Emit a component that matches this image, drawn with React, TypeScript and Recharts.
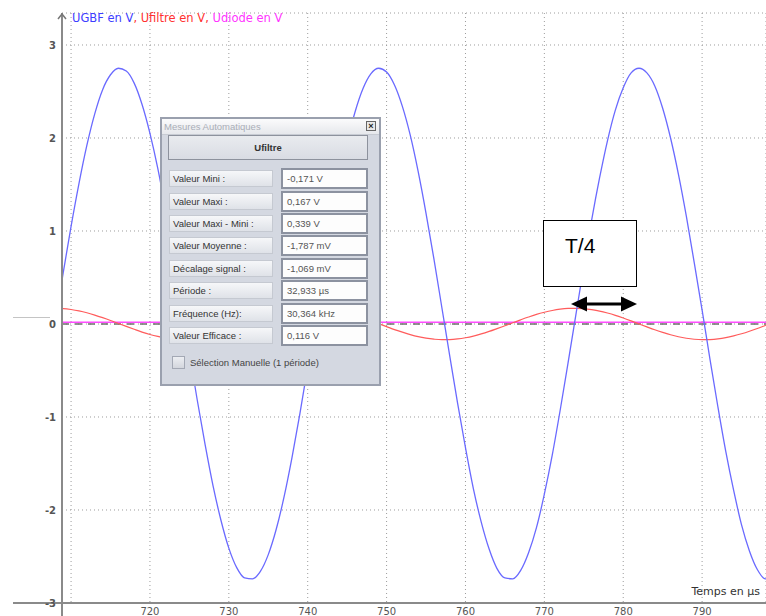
import React from 'react';
import { LineChart, Line, XAxis, YAxis, CartesianGrid, ReferenceLine, ReferenceDot } from 'recharts';

// time in µs
const times = [
  708, 709, 710, 711, 712, 713, 714, 715, 716, 717, 718, 719, 720, 721, 722, 723,
  724, 725, 726, 727, 728, 729, 730, 731, 732, 733, 734, 735, 736, 737, 738, 739,
  740, 741, 742, 743, 744, 745, 746, 747, 748, 749, 750, 751, 752, 753, 754, 755,
  756, 757, 758, 759, 760, 761, 762, 763, 764, 765, 766, 767, 768, 769, 770, 771,
  772, 773, 774, 775, 776, 777, 778, 779, 780, 781, 782, 783, 784, 785, 786, 787,
  788, 789, 790, 791, 792, 793, 794, 795, 796, 797, 798, 799,
];

// UGBF en V
const ugbf = [
  0.03, 0.55, 1.05, 1.51, 1.92, 2.26, 2.52, 2.68, 2.75, 2.72, 2.59, 2.36, 2.05, 1.67, 1.22, 0.73,
  0.22, -0.31, -0.82, -1.30, -1.74, -2.11, -2.41, -2.62, -2.73, -2.74, -2.66, -2.48, -2.21, -1.86, -1.44, -0.97,
  -0.46, 0.06, 0.58, 1.08, 1.54, 1.95, 2.28, 2.53, 2.69, 2.75, 2.71, 2.57, 2.34, 2.03, 1.64, 1.19,
  0.70, 0.18, -0.34, -0.85, -1.33, -1.77, -2.13, -2.42, -2.63, -2.73, -2.74, -2.65, -2.46, -2.19, -1.83, -1.41,
  -0.93, -0.42, 0.10, 0.62, 1.12, 1.57, 1.97, 2.30, 2.54, 2.70, 2.75, 2.70, 2.56, 2.32, 2.00, 1.61,
  1.16, 0.66, 0.15, -0.38, -0.89, -1.37, -1.79, -2.16, -2.44, -2.64, -2.74, -2.74,
];

// Ufiltre en V
const ufiltre = [
  0.169, 0.166, 0.156, 0.141, 0.121, 0.096, 0.068, 0.038, 0.006, -0.026, -0.057, -0.087, -0.113, -0.134, -0.151, -0.163,
  -0.168, -0.168, -0.161, -0.149, -0.131, -0.108, -0.082, -0.052, -0.021, 0.011, 0.043, 0.073, 0.101, 0.125, 0.144, 0.158,
  0.167, 0.169, 0.165, 0.155, 0.140, 0.119, 0.095, 0.066, 0.036, 0.004, -0.028, -0.060, -0.088, -0.114, -0.136, -0.152,
  -0.163, -0.169, -0.168, -0.161, -0.148, -0.130, -0.107, -0.080, -0.050, -0.019, 0.014, 0.045, 0.075, 0.103, 0.126, 0.145,
  0.159, 0.167, 0.169, 0.165, 0.154, 0.139, 0.118, 0.093, 0.064, 0.033, 0.001, -0.031, -0.062, -0.090, -0.116, -0.137,
  -0.153, -0.164, -0.169, -0.167, -0.160, -0.147, -0.128, -0.105, -0.078, -0.048, -0.016, 0.016,
];

// Udiode en V
const udiodeTimes = [708, 720, 730, 740, 750, 760, 770, 780, 790, 799];
const udiode = [0.02, 0.02, 0.02, 0.02, 0.02, 0.02, 0.02, 0.02, 0.02, 0.02];

const xTicks = [710, 720, 730, 740, 750, 760, 770, 780, 790];
const xTickLabels = ['', '720', '730', '740', '750', '760', '770', '780', '790'];
const yTicks = [-3, -2, -1, 0, 1, 2, 3];

const measureLabels = [
  'Valeur Mini :', 'Valeur Maxi :', 'Valeur Maxi - Mini :', 'Valeur Moyenne :',
  'Décalage signal :', 'Période :', 'Fréquence (Hz):', 'Valeur Efficace :',
];
const measureValues = [
  '-0,171 V', '0,167 V', '0,339 V', '-1,787 mV', '-1,069 mV', '32,933 µs', '30,364 kHz', '0,116 V',
];

const data = times.map((t, i) => ({ t, ugbf: ugbf[i], ufiltre: ufiltre[i] }));
const diodeData = udiodeTimes.map((t, i) => ({ t, udiode: udiode[i] }));

const X_MIN = 708.85;
const X_MAX = 798.1;
const Y_MIN = -3;
const Y_MAX = 3.344;

const rowTops = [170, 192.5, 215, 237, 260, 282, 305, 327];

function Dialog() {
  const W = { left: 160, top: 117 };
  const rel = (y: number) => y - W.top - 2;
  return (
    <div
      style={{
        position: 'absolute', left: W.left, top: W.top, width: 221, height: 269,
        boxSizing: 'border-box', border: '2px solid #9aa0ae', background: '#d4d8e1',
        fontFamily: '"Liberation Sans", Arial, sans-serif', fontSize: 9.5, color: '#3a3a3a',
      }}
    >
      <div
        style={{
          position: 'absolute', left: 0, top: 0, right: 0, height: 15,
          background: 'linear-gradient(#fbfbfc, #e6e8ec)', color: '#a9adb7',
          lineHeight: '15px', paddingLeft: 2, fontSize: 9.5, borderBottom: '1px solid #c7cbd3',
        }}
      >
        Mesures Automatiques
      </div>
      <div
        style={{
          position: 'absolute', right: 3, top: 2, width: 10, height: 10, boxSizing: 'border-box',
          border: '1px solid #666', background: '#e8e8e8', fontSize: 9, lineHeight: '8px',
          textAlign: 'center', fontWeight: 'bold', color: '#222',
        }}
      >
        ×
      </div>
      <div
        style={{
          position: 'absolute', left: 6, top: rel(135), width: 200, height: 25, boxSizing: 'border-box',
          border: '1px solid #8d929d', background: 'linear-gradient(#e9ebef, #d9dce3)',
          textAlign: 'center', lineHeight: '23px', fontWeight: 'bold', fontSize: 9.5, color: '#333',
        }}
      >
        Ufiltre
      </div>
      {measureLabels.map((lab, i) => (
        <React.Fragment key={lab}>
          <div
            style={{
              position: 'absolute', left: 7, top: rel(rowTops[i]), width: 104, height: 17,
              boxSizing: 'border-box', border: '1px solid #c5c9d1',
              background: 'linear-gradient(#f6f7f9, #dfe2e8)', paddingLeft: 3,
              lineHeight: '15px', whiteSpace: 'nowrap', color: '#333',
            }}
          >
            {lab}
          </div>
          <div
            style={{
              position: 'absolute', left: 119, top: rel(rowTops[i]) - 2, width: 87, height: 21,
              boxSizing: 'border-box', border: '2px solid #8c92a0', background: '#fdfdfd',
              paddingLeft: 4, lineHeight: '17px', whiteSpace: 'nowrap', color: '#555',
            }}
          >
            {measureValues[i]}
          </div>
        </React.Fragment>
      ))}
      <div
        style={{
          position: 'absolute', left: 10, top: rel(356), width: 13, height: 13, boxSizing: 'border-box',
          border: '1px solid #a3a8b4', background: 'linear-gradient(#eceef2, #d3d6dd)',
        }}
      />
      <div style={{ position: 'absolute', left: 28, top: rel(356), lineHeight: '13px', whiteSpace: 'nowrap', color: '#444' }}>
        Sélection Manuelle (1 période)
      </div>
    </div>
  );
}

export default function App() {
  return (
    <div
      style={{
        position: 'absolute', left: 0, top: 0, width: 766, height: 616, overflow: 'hidden',
        background: '#ffffff', fontFamily: '"DejaVu Sans", sans-serif',
      }}
    >
      <LineChart width={766} height={616} data={data} margin={{ top: 13, right: 0, bottom: 0, left: 0 }}>
        <CartesianGrid stroke="#9c9c9c" strokeDasharray="1 3" />
        <XAxis
          type="number" dataKey="t" domain={[X_MIN, X_MAX]} ticks={xTicks} interval={0}
          allowDataOverflow height={13} tickSize={0} tickMargin={5}
          tickFormatter={(v: number) => xTickLabels[xTicks.indexOf(v)] ?? ''}
          axisLine={{ stroke: '#8a8a8a', strokeWidth: 2 }}
          tick={{ fontSize: 10, fill: '#555' }}
        />
        <YAxis
          type="number" domain={[Y_MIN, Y_MAX]} ticks={yTicks} interval={0}
          allowDataOverflow width={62} tickSize={0} tickMargin={6}
          axisLine={{ stroke: '#8a8a8a', strokeWidth: 2 }}
          tick={{ fontSize: 10, fill: '#555', fontWeight: 'bold' }}
        />
        <ReferenceLine y={0} stroke="#6e6e6e" strokeWidth={1.5} strokeDasharray="7 6" />
        <ReferenceLine
          segment={[{ x: 702.64, y: Y_MIN }, { x: X_MIN, y: Y_MIN }]}
          ifOverflow="visible" stroke="#8a8a8a" strokeWidth={2}
        />
        <ReferenceLine
          segment={[{ x: X_MIN, y: Y_MIN }, { x: X_MIN, y: -3.14 }]}
          ifOverflow="visible" stroke="#8a8a8a" strokeWidth={2}
        />
        <ReferenceLine
          segment={[{ x: 702.64, y: 0.07 }, { x: 707.33, y: 0.07 }]}
          ifOverflow="visible" stroke="#c4c4c4" strokeWidth={1}
        />
        <ReferenceDot
          x={X_MIN} y={Y_MAX} r={0} ifOverflow="visible"
          shape={(p: any) => (
            <path
              d={`M${p.cx - 4},${p.cy + 6} L${p.cx},${p.cy + 1} L${p.cx + 4},${p.cy + 6}`}
              stroke="#777" strokeWidth={1.5} fill="none"
            />
          )}
        />
        <Line
          data={diodeData} dataKey="udiode" stroke="#ff4dff" strokeWidth={1.5}
          dot={false} isAnimationActive={false} type="linear"
        />
        <Line dataKey="ufiltre" stroke="#ff5c5c" strokeWidth={1.2} dot={false} isAnimationActive={false} type="monotone" />
        <Line dataKey="ugbf" stroke="#6a6aff" strokeWidth={1.3} dot={false} isAnimationActive={false} type="monotone" />
      </LineChart>

      <div style={{ position: 'absolute', left: 72, top: 12, fontSize: 11.5, lineHeight: '13px', whiteSpace: 'nowrap' }}>
        <span style={{ color: '#3d3dff' }}>UGBF en V</span>
        <span style={{ color: '#ff3030' }}>, Ufiltre en V, </span>
        <span style={{ color: '#ff33ff' }}>Udiode en V</span>
      </div>

      <div style={{ position: 'absolute', right: 6, top: 585, fontSize: 11, color: '#333', whiteSpace: 'nowrap' }}>
        Temps en µs
      </div>

      <Dialog />

      <div
        style={{
          position: 'absolute', left: 543, top: 220, width: 94, height: 67, boxSizing: 'border-box',
          border: '1.5px solid #000', background: '#fff',
          fontFamily: '"Liberation Sans", Arial, sans-serif', fontSize: 21, color: '#000',
        }}
      >
        <span style={{ position: 'absolute', left: 21, top: 13 }}>T/4</span>
      </div>
      <svg style={{ position: 'absolute', left: 0, top: 0 }} width={766} height={616} pointerEvents="none">
        <line x1={584} y1={304} x2={624} y2={304} stroke="#000" strokeWidth={3} />
        <polygon points="571,304 587,296.5 587,311.5" fill="#000" />
        <polygon points="637,304 621,296.5 621,311.5" fill="#000" />
      </svg>
    </div>
  );
}
